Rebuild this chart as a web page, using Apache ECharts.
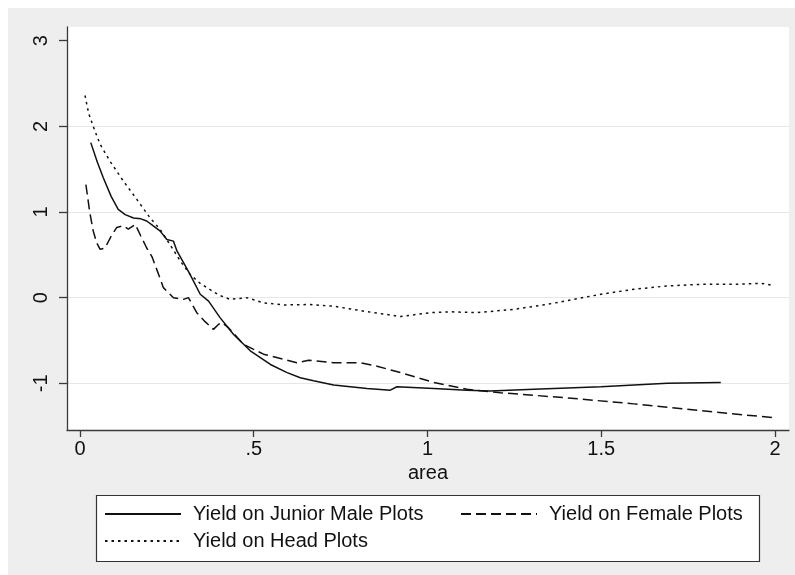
<!DOCTYPE html>
<html>
<head>
<meta charset="utf-8">
<script src="https://cdn.jsdelivr.net/npm/echarts@6/dist/echarts.min.js"></script>
<style>
  html, body { margin: 0; padding: 0; background: #fff; }
  #chart { width: 795px; height: 575px; }
</style>
</head>
<body>
<div id="chart"></div>
<script>
// values
const juniorX = [0.031, 0.05, 0.067, 0.09, 0.11, 0.13, 0.154, 0.175, 0.192, 0.21, 0.23, 0.25, 0.269, 0.279, 0.298, 0.317, 0.346, 0.37, 0.403, 0.442, 0.49, 0.548, 0.596, 0.634, 0.672, 0.73, 0.826, 0.893, 0.912, 1.018, 1.114, 1.18, 1.306, 1.499, 1.69, 1.844];
const juniorY = [1.81, 1.58, 1.40, 1.18, 1.03, 0.97, 0.93, 0.92, 0.895, 0.84, 0.78, 0.68, 0.66, 0.545, 0.41, 0.27, 0.04, -0.04, -0.233, -0.43, -0.62, -0.78, -0.875, -0.935, -0.97, -1.02, -1.06, -1.08, -1.04, -1.06, -1.08, -1.09, -1.07, -1.04, -1.0, -0.99];

const femaleX = [0.017, 0.028, 0.038, 0.048, 0.058, 0.072, 0.09, 0.106, 0.125, 0.139, 0.159, 0.175, 0.192, 0.207, 0.23, 0.24, 0.269, 0.298, 0.312, 0.336, 0.36, 0.384, 0.399, 0.408, 0.427, 0.471, 0.528, 0.586, 0.624, 0.658, 0.73, 0.807, 0.855, 0.922, 1.018, 1.114, 1.21, 1.402, 1.594, 1.787, 1.993];
const femaleY = [1.32, 1.0, 0.78, 0.64, 0.565, 0.58, 0.72, 0.82, 0.84, 0.80, 0.856, 0.72, 0.58, 0.48, 0.23, 0.117, 0.0, -0.02, 0.0, -0.175, -0.28, -0.37, -0.31, -0.29, -0.35, -0.545, -0.66, -0.72, -0.76, -0.73, -0.76, -0.76, -0.80, -0.875, -0.99, -1.07, -1.11, -1.17, -1.24, -1.32, -1.40];

const headX = [0.0144, 0.025, 0.038, 0.058, 0.086, 0.125, 0.163, 0.202, 0.23, 0.259, 0.29, 0.317, 0.345, 0.365, 0.40, 0.432, 0.48, 0.528, 0.586, 0.663, 0.73, 0.826, 0.922, 1.009, 1.066, 1.143, 1.249, 1.345, 1.499, 1.594, 1.69, 1.787, 1.883, 1.96, 1.993];
const headY = [2.36, 2.15, 2.0, 1.79, 1.595, 1.36, 1.15, 0.93, 0.80, 0.62, 0.42, 0.27, 0.17, 0.117, 0.03, -0.02, 0.0, -0.06, -0.085, -0.08, -0.10, -0.163, -0.22, -0.175, -0.165, -0.175, -0.136, -0.078, 0.04, 0.098, 0.137, 0.156, 0.156, 0.168, 0.145];

const xTicks = [0, 0.5, 1, 1.5, 2];
const xTickLabels = ['0', '.5', '1', '1.5', '2'];
const yTicks = [-1, 0, 1, 2, 3];
const yTickLabels = ['-1', '0', '1', '2', '3'];

const seriesNames = ['Yield on Junior Male Plots', 'Yield on Female Plots', 'Yield on Head Plots'];

function pairs(xs, ys) {
  return xs.map((x, i) => [x, ys[i]]);
}

const font = 'Liberation Sans, Arial, sans-serif';
const ink = '#111';

const chart = echarts.init(document.getElementById('chart'), null, { renderer: 'canvas' });

function legendAt(name, left, top) {
  return {
    data: [name],
    left: left,
    top: top,
    orient: 'horizontal',
    padding: 0,
    itemWidth: 76,
    itemHeight: 14,
    z: 10,
    selectedMode: false,
    itemStyle: { opacity: 0 },
    textStyle: { fontFamily: font, fontSize: 20, color: ink, padding: [0, 0, 0, 7] }
  };
}

chart.setOption({
  animation: false,
  backgroundColor: '#fff',
  graphic: [
    { type: 'rect', z: -10, shape: { x: 8, y: 8, width: 787, height: 567 }, style: { fill: '#eeeeee' } },
    { type: 'rect', z: 1, shape: { x: 96.5, y: 495.5, width: 663, height: 66 }, style: { fill: '#fff', stroke: '#333', lineWidth: 1.2 } }
  ],
  grid: {
    left: 67, top: 27, right: 6, bottom: 145,
    show: true, backgroundColor: '#fff', borderWidth: 0
  },
  legend: [
    legendAt(seriesNames[0], 104, 504),
    legendAt(seriesNames[1], 460, 504),
    legendAt(seriesNames[2], 104, 531)
  ],
  xAxis: {
    type: 'value',
    min: -0.0374,
    max: 2.0403,
    name: 'area',
    nameLocation: 'middle',
    nameGap: 19,
    nameTextStyle: { fontFamily: font, fontSize: 20, color: ink },
    axisLine: { show: true, onZero: false, lineStyle: { color: '#3a3a3a', width: 1.3 } },
    axisTick: { show: true, length: 7, customValues: xTicks, lineStyle: { color: '#3a3a3a', width: 1.3 } },
    axisLabel: {
      customValues: xTicks,
      margin: 9,
      fontFamily: font, fontSize: 20, color: ink,
      formatter: v => xTickLabels[xTicks.indexOf(v)]
    },
    splitLine: { show: false }
  },
  yAxis: {
    type: 'value',
    min: -1.545,
    max: 3.16,
    axisLine: { show: true, onZero: false, lineStyle: { color: '#3a3a3a', width: 1.3 } },
    axisTick: { show: true, length: 8, customValues: yTicks, lineStyle: { color: '#3a3a3a', width: 1.3 } },
    axisLabel: {
      customValues: yTicks,
      rotate: 90,
      margin: 16,
      fontFamily: font, fontSize: 20, color: ink,
      formatter: v => yTickLabels[yTicks.indexOf(v)]
    },
    splitLine: {
      show: true,
      lineStyle: { color: ['#e6e6e6', '#e6e6e6', '#e6e6e6', '#e6e6e6', 'rgba(0,0,0,0)'], width: 1.2 }
    }
  },
  series: [
    {
      name: seriesNames[0], type: 'line', showSymbol: false, symbol: 'none', z: 5,
      lineStyle: { color: ink, width: 1.5, type: 'solid' },
      itemStyle: { color: ink },
      data: pairs(juniorX, juniorY)
    },
    {
      name: seriesNames[1], type: 'line', showSymbol: false, symbol: 'none', z: 5,
      lineStyle: { color: ink, width: 1.5, type: [10, 5] },
      itemStyle: { color: ink },
      data: pairs(femaleX, femaleY)
    },
    {
      name: seriesNames[2], type: 'line', showSymbol: false, symbol: 'none', z: 5,
      lineStyle: { color: ink, width: 1.5, type: [2.5, 4] },
      itemStyle: { color: ink },
      data: pairs(headX, headY)
    }
  ]
});
</script>
</body>
</html>
